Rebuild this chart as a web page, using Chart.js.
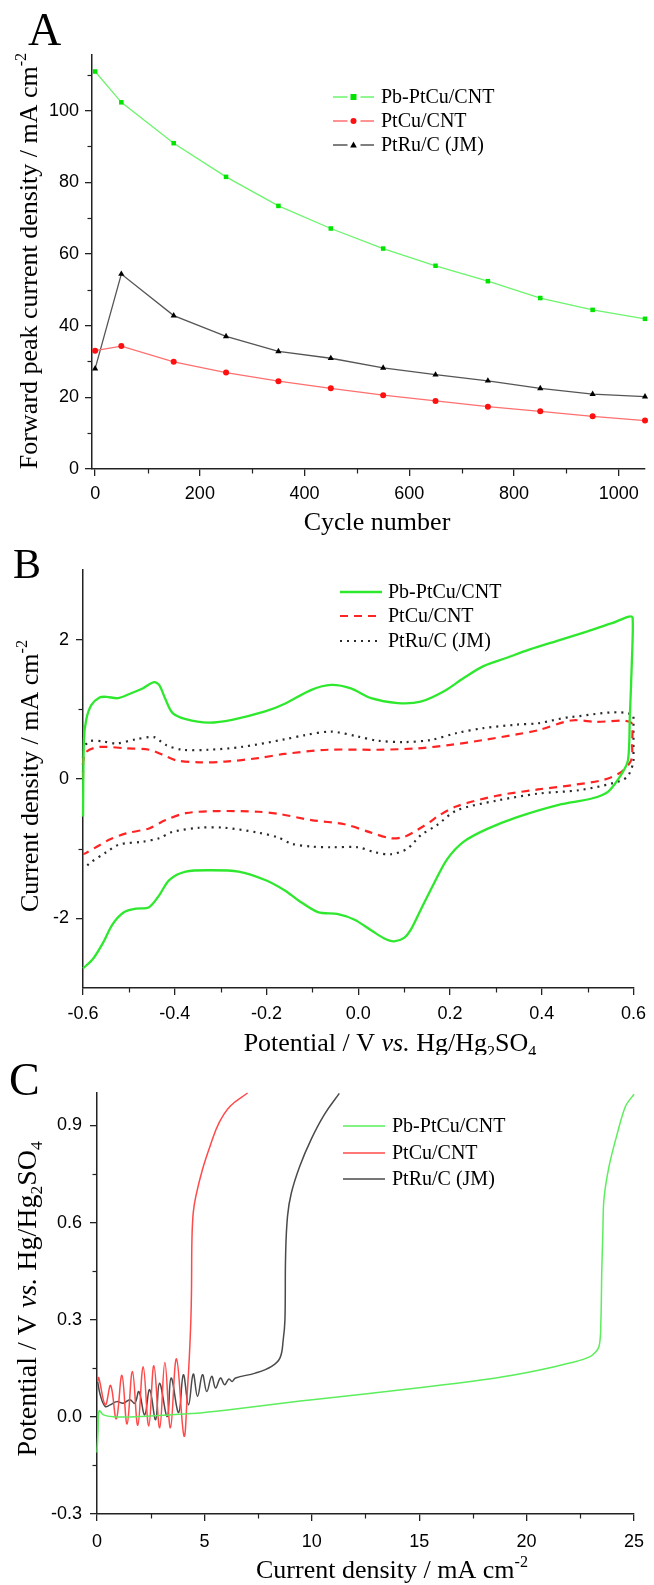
<!DOCTYPE html>
<html>
<head>
<meta charset="utf-8">
<script src="https://cdn.jsdelivr.net/npm/chart.js@4.4.1/dist/chart.umd.min.js"></script>
<style>
  html, body { margin: 0; padding: 0; background: #fff; }
  #wrap { position: relative; width: 654px; height: 1585px; }
  canvas { position: absolute; left: 0; }
</style>
</head>
<body>
<div id="wrap">
  <canvas id="chartA" width="654" height="540" style="top:0px"></canvas>
  <canvas id="chartB" width="654" height="515" style="top:540px"></canvas>
  <canvas id="chartC" width="654" height="530" style="top:1055px"></canvas>
</div>
<script>
// ---------------- Panel A : forward peak current vs cycle number ----------------
const cycles = [0, 50, 150, 250, 350, 450, 550, 650, 750, 850, 950, 1050];
const peakPbPtCu = [110.9, 102.3, 90.9, 81.5, 73.4, 67.1, 61.5, 56.7, 52.4, 47.7, 44.4, 41.9];
const peakPtCu   = [33.0, 34.3, 29.9, 26.9, 24.5, 22.5, 20.6, 19.0, 17.4, 16.1, 14.7, 13.5];
const peakPtRu   = [28.0, 54.4, 42.8, 37.0, 32.8, 30.9, 28.2, 26.3, 24.6, 22.5, 20.9, 20.2];
const ticksAx = [0, 200, 400, 600, 800, 1000];
const ticksAy = [0, 20, 40, 60, 80, 100];

// ---------------- Panel B : cyclic voltammograms ----------------
const cvPbPtCuV = [-0.6, -0.598, -0.593, -0.582, -0.564, -0.549, -0.524, -0.499, -0.47, -0.445, -0.434, -0.42, -0.405, -0.376, -0.326, -0.275, -0.203, -0.16, -0.102, -0.059, -0.016, 0.028, 0.086, 0.136, 0.187, 0.23, 0.273, 0.324, 0.374, 0.437, 0.5, 0.555, 0.598,
  0.596, 0.592, 0.588, 0.573, 0.545, 0.509, 0.437, 0.345, 0.28, 0.23, 0.194, 0.165, 0.136, 0.114, 0.1, 0.078, 0.057, 0.028, -0.008, -0.044, -0.088, -0.131, -0.16, -0.203, -0.261, -0.319, -0.376, -0.412, -0.434, -0.456, -0.484, -0.51, -0.535, -0.557, -0.578, -0.6];
const cvPbPtCuI = [-0.54, 0.56, 0.85, 1.06, 1.17, 1.18, 1.16, 1.22, 1.3, 1.39, 1.35, 1.14, 0.95, 0.86, 0.81, 0.85, 0.97, 1.08, 1.28, 1.35, 1.3, 1.16, 1.09, 1.11, 1.26, 1.45, 1.62, 1.74, 1.86, 1.99, 2.12, 2.24, 2.32,
  1.6, 0.9, 0.27, 0.06, -0.18, -0.28, -0.37, -0.55, -0.72, -0.9, -1.15, -1.5, -1.88, -2.17, -2.28, -2.33, -2.29, -2.17, -2.02, -1.94, -1.91, -1.74, -1.6, -1.45, -1.33, -1.31, -1.33, -1.45, -1.67, -1.84, -1.86, -1.91, -2.08, -2.36, -2.58, -2.72];
const cvPtCuV = [-0.6, -0.6, -0.593, -0.564, -0.506, -0.456, -0.427, -0.398, -0.347, -0.29, -0.218, -0.16, -0.066, 0.042, 0.129, 0.201, 0.273, 0.345, 0.392, 0.464, 0.518, 0.595,
  0.597, 0.595, 0.573, 0.536, 0.464, 0.392, 0.302, 0.215, 0.172, 0.158, 0.129, 0.1, 0.071, 0.028, -0.03, -0.102, -0.174, -0.218, -0.304, -0.376, -0.42, -0.456, -0.506, -0.542, -0.564, -0.593, -0.6];
const cvPtCuI = [0.0, 0.23, 0.39, 0.46, 0.44, 0.42, 0.35, 0.27, 0.24, 0.25, 0.3, 0.36, 0.42, 0.42, 0.44, 0.49, 0.56, 0.64, 0.7, 0.84, 0.82, 0.81,
  0.5, 0.27, 0.1, -0.01, -0.09, -0.15, -0.24, -0.39, -0.54, -0.61, -0.73, -0.83, -0.85, -0.77, -0.65, -0.59, -0.5, -0.47, -0.46, -0.49, -0.59, -0.71, -0.78, -0.87, -0.95, -1.06, -1.08];
const cvPtRuV = [-0.6, -0.6, -0.586, -0.557, -0.528, -0.484, -0.445, -0.42, -0.384, -0.326, -0.254, -0.16, -0.116, -0.059, -0.001, 0.042, 0.1, 0.158, 0.215, 0.273, 0.345, 0.392, 0.464, 0.6,
  0.6, 0.586, 0.555, 0.482, 0.392, 0.302, 0.215, 0.172, 0.136, 0.107, 0.071, 0.035, -0.001, -0.059, -0.102, -0.145, -0.174, -0.218, -0.29, -0.347, -0.405, -0.434, -0.47, -0.521, -0.549, -0.586, -0.593];
const cvPtRuI = [0.1, 0.42, 0.54, 0.54, 0.51, 0.57, 0.6, 0.49, 0.42, 0.42, 0.46, 0.57, 0.63, 0.68, 0.61, 0.55, 0.53, 0.56, 0.66, 0.73, 0.78, 0.8, 0.89, 0.91,
  0.27, 0.03, -0.06, -0.16, -0.21, -0.31, -0.45, -0.66, -0.81, -1.0, -1.08, -1.05, -0.98, -0.98, -0.97, -0.93, -0.84, -0.77, -0.7, -0.7, -0.76, -0.85, -0.9, -0.94, -1.05, -1.21, -1.26];
const ticksBx = [-0.6, -0.4, -0.2, 0, 0.2, 0.4, 0.6];
const ticksBy = [-2, 0, 2];

// ---------------- Panel C : chronopotentiometry ----------------
const cpPbPtCuJ = [0, 0.05, 0.1, 0.3, 0.76, 1.84, 3.37, 4.9, 6.45, 8.9, 10.03, 14.9, 18.57, 20.5, 22.0, 22.98, 23.37, 23.46, 23.5, 23.55, 23.6, 23.84, 24.23, 24.61, 25.0];
const cpPbPtCuE = [-0.11, -0.04, 0.019, 0.006, 0.0, 0.0, 0.006, 0.013, 0.024, 0.044, 0.053, 0.089, 0.12, 0.143, 0.166, 0.187, 0.217, 0.30, 0.45, 0.568, 0.671, 0.774, 0.877, 0.96, 0.996];
const cpPtCuJ = [0.03, 0.08, 0.39, 0.635, 0.9, 1.16, 1.4, 1.65, 1.9, 2.15, 2.41, 2.65, 2.92, 3.16, 3.42, 3.7, 4.05, 4.22, 4.3, 4.37, 4.4, 4.42, 4.48, 4.6, 4.91, 5.29, 5.68, 6.21, 7.01];
const cpPtCuE = [0.11, 0.121, 0.037, 0.097, -0.006, 0.128, -0.022, 0.14, -0.026, 0.155, -0.028, 0.158, -0.034, 0.168, -0.034, 0.179, -0.059, 0.094, 0.187, 0.3, 0.393, 0.547, 0.63, 0.681, 0.764, 0.841, 0.908, 0.96, 1.0];
const cpPtRuJ = [0.03, 0.15, 0.38, 0.61, 0.92, 1.22, 1.53, 1.76, 1.95, 2.22, 2.45, 2.73, 2.91, 3.27, 3.45, 3.8, 4.02, 4.26, 4.48, 4.68, 4.91, 5.11, 5.34, 5.52, 5.75, 5.94, 6.14, 6.29, 6.45, 7.37, 8.13, 8.52, 8.67, 8.75, 8.78, 8.87, 9.05, 9.44, 9.97, 10.59, 11.28];
const cpPtRuE = [0.109, 0.068, 0.032, 0.037, 0.047, 0.042, 0.053, 0.042, 0.078, 0.006, 0.084, -0.009, 0.104, 0.001, 0.12, 0.013, 0.13, 0.037, 0.132, 0.063, 0.13, 0.078, 0.125, 0.089, 0.12, 0.099, 0.117, 0.109, 0.12, 0.135, 0.156, 0.182, 0.238, 0.3, 0.496, 0.62, 0.692, 0.774, 0.857, 0.934, 0.999];
const ticksCx = [0, 5, 10, 15, 20, 25];
const ticksCy = [-0.3, 0, 0.3, 0.6, 0.9];

const names = ['Pb-PtCu/CNT', 'PtCu/CNT', 'PtRu/C (JM)'];

const SERIF = '"Liberation Serif", "Times New Roman", serif';
const SANS = '"Liberation Sans", Arial, sans-serif';

function pts(xs, ys) {
    return xs.map((x, i) => ({ x: x, y: ys[i] }));
}

// tekst met superscript / subscript / cursief
function richText(ctx, segs, cx, cy, size, angle) {
    ctx.save();
    ctx.translate(cx, cy);
    ctx.rotate(angle || 0);
    const fontOf = s => (s.it ? 'italic ' : '') + ((s.sup || s.sub) ? size * 0.62 : size) + 'px ' + SERIF;
    let total = 0;
    segs.forEach(s => { ctx.font = fontOf(s); s.w = ctx.measureText(s.t).width; total += s.w; });
    let x = -total / 2;
    const base = size * 0.32;
    ctx.textBaseline = 'alphabetic';
    ctx.textAlign = 'left';
    ctx.fillStyle = '#000';
    segs.forEach(s => {
        ctx.font = fontOf(s);
        const dy = s.sup ? -size * 0.42 : (s.sub ? size * 0.2 : 0);
        ctx.fillText(s.t, x, base + dy);
        x += s.w;
    });
    ctx.restore();
}

function drawMarker(ctx, style, x, y, r, color) {
    ctx.save();
    ctx.fillStyle = color;
    ctx.beginPath();
    if (style === 'rect') {
        ctx.rect(x - r, y - r, 2 * r, 2 * r);
    } else if (style === 'circle') {
        ctx.arc(x, y, r, 0, Math.PI * 2);
    } else {
        ctx.moveTo(x, y - r * 1.2);
        ctx.lineTo(x + r * 1.1, y + r * 0.8);
        ctx.lineTo(x - r * 1.1, y + r * 0.8);
        ctx.closePath();
    }
    ctx.fill();
    ctx.restore();
}

// plugin: kleine tick-streepjes, paneelletter, as-titels en legenda
const panelText = {
    id: 'panelText',
    afterDraw(chart, args, o) {
        const ctx = chart.ctx;
        const a = chart.chartArea;
        const sx = chart.scales.x, sy = chart.scales.y;
        ctx.save();
        ctx.strokeStyle = '#222';
        ctx.lineWidth = 1.2;
        (o.minorX || []).forEach(v => {
            const px = Math.round(sx.getPixelForValue(v)) + 0.5;
            ctx.beginPath(); ctx.moveTo(px, a.bottom); ctx.lineTo(px, a.bottom + 4.5); ctx.stroke();
        });
        (o.minorY || []).forEach(v => {
            const py = Math.round(sy.getPixelForValue(v)) + 0.5;
            ctx.beginPath(); ctx.moveTo(a.left, py); ctx.lineTo(a.left - 4.5, py); ctx.stroke();
        });
        ctx.restore();

        ctx.save();
        ctx.fillStyle = '#000';
        ctx.font = o.letterSize + 'px ' + SERIF;
        ctx.textBaseline = 'alphabetic';
        ctx.fillText(o.letter, o.letterX, o.letterY);
        ctx.restore();

        richText(ctx, o.xTitle, o.xTitlePos[0], o.xTitlePos[1], o.titleSize, 0);
        richText(ctx, o.yTitle, o.yTitlePos[0], o.yTitlePos[1], o.yTitleSize || o.titleSize, -Math.PI / 2);

        const lg = o.legend;
        lg.items.forEach((it, i) => {
            const y = lg.y[i];
            ctx.save();
            ctx.strokeStyle = it.color;
            ctx.lineWidth = it.width;
            ctx.setLineDash(it.dash || []);
            ctx.beginPath();
            if (it.marker) {
                const mid = (lg.x0 + lg.x1) / 2;
                ctx.moveTo(lg.x0, y); ctx.lineTo(mid - 6, y);
                ctx.moveTo(mid + 7, y); ctx.lineTo(lg.x1, y);
            } else {
                ctx.moveTo(lg.x0, y); ctx.lineTo(lg.x1, y);
            }
            ctx.stroke();
            ctx.restore();
            if (it.marker) drawMarker(ctx, it.marker, (lg.x0 + lg.x1) / 2, y, 3, it.markerColor);
            ctx.save();
            ctx.fillStyle = '#000';
            ctx.font = lg.size + 'px ' + SERIF;
            ctx.textBaseline = 'middle';
            ctx.fillText(names[i], lg.tx, y + 1);
            ctx.restore();
        });
    }
};

function makeChart(id, c) {
    const el = document.getElementById(id);
    const W = el.width, H = el.height;
    const axisCommon = {
        type: 'linear',
        border: { display: true, color: '#222', width: 1.5 },
        grid: { display: true, drawOnChartArea: false, drawTicks: true, tickLength: 7, color: '#222', lineWidth: 1.3 },
    };
    return new Chart(el, {
        type: 'scatter',
        data: { datasets: c.datasets },
        options: {
            responsive: false,
            animation: false,
            devicePixelRatio: 1,
            layout: { padding: { top: c.area.top, right: W - c.area.right, left: 0, bottom: 0 } },
            plugins: {
                legend: { display: false },
                tooltip: { enabled: false },
                panelText: c.text
            },
            scales: {
                x: Object.assign({}, axisCommon, {
                    min: c.xMin, max: c.xMax,
                    afterFit: s => { s.height = H - c.area.bottom; },
                    afterBuildTicks: s => { s.ticks = c.xTicks.map(v => ({ value: v })); },
                    ticks: { color: '#000', font: { family: SANS, size: 18 }, padding: c.xPad, maxRotation: 0, autoSkip: false, callback: c.xFmt }
                }),
                y: Object.assign({}, axisCommon, {
                    min: c.yMin, max: c.yMax,
                    afterFit: s => { s.width = c.area.left; },
                    afterBuildTicks: s => { s.ticks = c.yTicks.map(v => ({ value: v })); },
                    ticks: { color: '#000', font: { family: SANS, size: 18 }, padding: c.yPad, autoSkip: false, callback: c.yFmt }
                })
            }
        },
        plugins: [panelText]
    });
}

const GREEN = '#2ee82e', RED = '#ff2424', BLACK = '#2a2a2a';

// ---- A ----
makeChart('chartA', {
    area: { left: 92, top: 55, right: 645, bottom: 469 },
    xMin: -6, xMax: 1050, yMin: 0, yMax: 115.5,
    xTicks: ticksAx, yTicks: ticksAy, xPad: 7, yPad: 6,
    xFmt: v => String(v), yFmt: v => String(v),
    datasets: [
        { data: pts(cycles, peakPbPtCu), showLine: true, borderColor: '#6cf46c', borderWidth: 1.3, pointStyle: 'rect', pointRadius: 3.2, pointBackgroundColor: '#00e400', pointBorderWidth: 0, clip: false },
        { data: pts(cycles, peakPtCu), showLine: true, borderColor: '#ff6f6f', borderWidth: 1.3, pointStyle: 'circle', pointRadius: 3, pointBackgroundColor: '#ff1010', pointBorderWidth: 0, clip: false },
        { data: pts(cycles, peakPtRu), showLine: true, borderColor: '#555', borderWidth: 1.3, pointStyle: 'triangle', pointRadius: 3.6, pointBackgroundColor: '#000', pointBorderWidth: 0, clip: false }
    ],
    text: {
        minorX: [100, 300, 500, 700, 900], minorY: [10, 30, 50, 70, 90, 110],
        letter: 'A', letterX: 28, letterY: 45, letterSize: 46,
        titleSize: 26,
        xTitle: [{ t: 'Cycle number' }], xTitlePos: [377, 522],
        yTitle: [{ t: 'Forward peak current density / mA cm' }, { t: '-2', sup: true }], yTitlePos: [29, 261],
        legend: {
            x0: 333, x1: 374, tx: 381, size: 20, y: [97, 121, 145],
            items: [
                { color: '#6cf46c', width: 1.3, marker: 'rect', markerColor: '#00e400' },
                { color: '#ff6f6f', width: 1.3, marker: 'circle', markerColor: '#ff1010' },
                { color: '#555', width: 1.3, marker: 'tri', markerColor: '#000' }
            ]
        }
    }
});

// ---- B ----
makeChart('chartB', {
    area: { left: 83, top: 30, right: 637.5, bottom: 448 },
    xMin: -0.6, xMax: 0.6, yMin: -3, yMax: 3,
    xTicks: ticksBx, yTicks: ticksBy, xPad: 8, yPad: 7,
    xFmt: v => v.toFixed(1), yFmt: v => String(v),
    datasets: [
        { data: pts(cvPbPtCuV, cvPbPtCuI), showLine: true, borderColor: GREEN, borderWidth: 2.3, pointRadius: 0, tension: 0.3, clip: false },
        { data: pts(cvPtCuV, cvPtCuI), showLine: true, borderColor: RED, borderWidth: 2.2, borderDash: [8, 6], pointRadius: 0, tension: 0.3, clip: false },
        { data: pts(cvPtRuV, cvPtRuI), showLine: true, borderColor: BLACK, borderWidth: 2.2, borderDash: [2, 5], pointRadius: 0, tension: 0.3, clip: false }
    ],
    text: {
        minorX: [-0.5, -0.3, -0.1, 0.1, 0.3, 0.5], minorY: [-1, 1],
        letter: 'B', letterX: 13, letterY: 38, letterSize: 42,
        titleSize: 26,
        xTitle: [{ t: 'Potential / V ' }, { t: 'vs.', it: true }, { t: ' Hg/Hg' }, { t: '2', sub: true }, { t: 'SO' }, { t: '4', sub: true }],
        xTitlePos: [390, 503],
        yTitle: [{ t: 'Current density / mA cm' }, { t: '-2', sup: true }], yTitlePos: [30, 236],
        legend: {
            x0: 340, x1: 382, tx: 388, size: 20, y: [52, 76, 101],
            items: [
                { color: GREEN, width: 2.3 },
                { color: RED, width: 2.2, dash: [8, 6] },
                { color: BLACK, width: 2.2, dash: [2, 5] }
            ]
        }
    }
});

// ---- C ----
makeChart('chartC', {
    area: { left: 97, top: 38, right: 639.6, bottom: 459 },
    xMin: 0, xMax: 25, yMin: -0.3, yMax: 1.0,
    xTicks: ticksCx, yTicks: ticksCy, xPad: 10, yPad: 8,
    xFmt: v => String(v), yFmt: v => v.toFixed(1),
    datasets: [
        { data: pts(cpPbPtCuJ, cpPbPtCuE), showLine: true, borderColor: '#5cee5c', borderWidth: 1.5, pointRadius: 0, tension: 0.3, clip: false },
        { data: pts(cpPtCuJ, cpPtCuE), showLine: true, borderColor: '#ff4a4a', borderWidth: 1.5, pointRadius: 0, tension: 0.4, clip: false },
        { data: pts(cpPtRuJ, cpPtRuE), showLine: true, borderColor: '#4a4a4a', borderWidth: 1.5, pointRadius: 0, tension: 0.4, clip: false }
    ],
    text: {
        minorX: [2.5, 7.5, 12.5, 17.5, 22.5], minorY: [-0.15, 0.15, 0.45, 0.75],
        letter: 'C', letterX: 9, letterY: 40, letterSize: 46,
        titleSize: 26, yTitleSize: 28,
        xTitle: [{ t: 'Current density / mA cm' }, { t: '-2', sup: true }], xTitlePos: [392, 515],
        yTitle: [{ t: 'Potential / V ' }, { t: 'vs.', it: true }, { t: ' Hg/Hg' }, { t: '2', sub: true }, { t: 'SO' }, { t: '4', sub: true }],
        yTitlePos: [27, 244],
        legend: {
            x0: 343, x1: 385, tx: 392, size: 20, y: [71, 98, 124],
            items: [
                { color: '#5cee5c', width: 1.5 },
                { color: '#ff4a4a', width: 1.5 },
                { color: '#4a4a4a', width: 1.5 }
            ]
        }
    }
});
</script>
</body>
</html>
